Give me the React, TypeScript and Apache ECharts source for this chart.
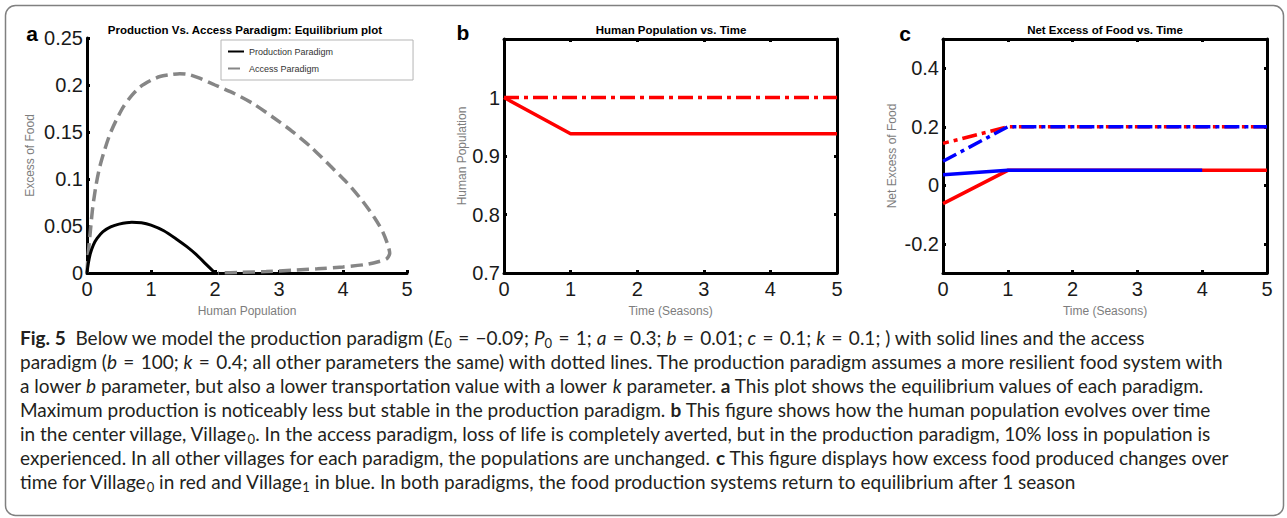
import React, { useEffect, useRef } from 'react';
import * as echarts from 'echarts';

// ---------- data ----------
// Panel a: equilibrium curves (Human Population on x, Excess of Food on y)
const productionX = [0, 0.02, 0.05, 0.1, 0.16, 0.25, 0.37, 0.5, 0.7, 0.85, 1.0, 1.2, 1.4, 1.56, 1.7, 1.85, 2.0];
const productionY = [0, 0.01, 0.02, 0.03, 0.037, 0.044, 0.049, 0.052, 0.054, 0.0535, 0.051, 0.045, 0.036, 0.028, 0.02, 0.01, 0];
const accessX = [0, 0.01, 0.03, 0.06, 0.09, 0.14, 0.2, 0.28, 0.36, 0.46, 0.57, 0.7, 0.83, 1.0, 1.14, 1.3, 1.45, 1.6, 1.77, 2.0, 2.3, 2.6, 2.9, 3.2, 3.5, 3.8, 4.05, 4.3, 4.5, 4.62, 4.7, 4.73, 4.68, 4.55, 4.35, 4.0, 3.6, 3.2, 2.8, 2.4, 2.05];
const accessY = [0, 0.012, 0.028, 0.05, 0.07, 0.093, 0.113, 0.132, 0.148, 0.163, 0.177, 0.189, 0.198, 0.205, 0.209, 0.211, 0.212, 0.211, 0.207, 0.2, 0.191, 0.18, 0.166, 0.151, 0.134, 0.114, 0.097, 0.077, 0.058, 0.044, 0.03, 0.021, 0.015, 0.012, 0.009, 0.0065, 0.0045, 0.003, 0.0015, 0.0006, 0];

// Panel b: human population vs time (seasons)
const seasons = [0, 1, 2, 3, 4, 5];
const popAccess = [1, 1, 1, 1, 1, 1];
const popProduction = [1, 0.938, 0.938, 0.938, 0.938, 0.938];

// Panel c: net excess of food vs time
const foodV0Production = [-0.063, 0.051, 0.051, 0.051, 0.051, 0.051];
const foodV0Access = [0.143, 0.2, 0.2, 0.2, 0.2, 0.2];
const foodV1Production = [0.036, 0.051, 0.051, 0.051, 0.051];
const foodV1Access = [0.082, 0.2, 0.2, 0.2, 0.2, 0.2];

// tick labels
const excessTicks = [0, 0.05, 0.1, 0.15, 0.2, 0.25];
const popTicks = [0.7, 0.8, 0.9, 1];
const foodTicks = [-0.2, 0, 0.2, 0.4];

const legendNames = ['Production Paradigm', 'Access Paradigm'];
const titles = ['Production Vs. Access Paradigm: Equilibrium plot', 'Human Population vs. Time', 'Net Excess of Food vs. Time'];

const EQ = '\u2004=\u2004';
const captionLines = [
  `{b|Fig. 5}  Below we model the production paradigm ({i|E}{sub|0}${EQ}−0.09; {i|P}{sub|0}${EQ}1; {i|a}${EQ}0.3; {i|b}${EQ}0.01; {i|c}${EQ}0.1; {i|k}${EQ}0.1; ) with solid lines and the access`,
  `paradigm ({i|b}${EQ}100; {i|k}${EQ}0.4; all other parameters the same) with dotted lines. The production paradigm assumes a more resilient food system with`,
  'a lower {i|b} parameter, but also a lower transportation value with a lower {i|k} parameter. {b|a} This plot shows the equilibrium values of each paradigm.',
  'Maximum production is noticeably less but stable in the production paradigm. {b|b} This figure shows how the human population evolves over time',
  'in the center village, Village{sub|0}. In the access paradigm, loss of life is completely averted, but in the production paradigm, 10% loss in population is',
  'experienced. In all other villages for each paradigm, the populations are unchanged. {b|c} This figure displays how excess food produced changes over',
  'time for Village{sub|0} in red and Village{sub|1} in blue. In both paradigms, the food production systems return to equilibrium after 1 season',
];

// ---------- styles ----------
const FONT = '"Liberation Sans", Arial, Helvetica, sans-serif';
const CAP_FONT = 'Lato, "Noto Sans", sans-serif';
const CAP_SIZE = 19;
const CAP_LINE = 24;
const CAP_COLOR = '#231f20';

const zip = (xs: number[], ys: number[]) => xs.map((x, i) => [x, ys[i]]);

const axisLine = { show: true, onZero: false, lineStyle: { color: '#000', width: 3 } };
const tick = { show: true, inside: true, length: 3, lineStyle: { color: '#000', width: 3 } };
const labelStyle = { fontSize: 20, color: '#1a1a1a', fontFamily: FONT };
const nameStyle = { fontSize: 12, color: '#7d7d7d', fontFamily: FONT, verticalAlign: 'middle', align: 'center' };
const dashDot = [15, 5, 4, 5];

function bottomX(grid: number, name: string) {
  return {
    gridIndex: grid, type: 'value', min: 0, max: 5, interval: 1,
    axisLine, axisTick: tick, splitLine: { show: false },
    axisLabel: { ...labelStyle, margin: 6 },
    name, nameLocation: 'middle', nameGap: 38, nameTextStyle: nameStyle,
  };
}
function topX(grid: number) {
  return {
    gridIndex: grid, type: 'value', position: 'top', min: 0, max: 5, interval: 1,
    axisLine, axisTick: tick, splitLine: { show: false }, axisLabel: { show: false },
  };
}
function leftY(grid: number, min: number, max: number, ticks: number[], name: string, gap: number) {
  return {
    gridIndex: grid, type: 'value', min, max,
    axisLine, splitLine: { show: false },
    axisTick: { ...tick, customValues: ticks },
    axisLabel: { ...labelStyle, margin: 4, customValues: ticks, formatter: (v: number) => String(Math.round(v * 100) / 100) },
    name, nameLocation: 'middle', nameRotate: 90, nameGap: gap, nameTextStyle: nameStyle,
  };
}
function rightY(grid: number, min: number, max: number, ticks: number[]) {
  return {
    gridIndex: grid, type: 'value', position: 'right', min, max,
    axisLine, splitLine: { show: false },
    axisTick: { ...tick, customValues: ticks }, axisLabel: { show: false },
  };
}

function line(name: string, xi: number, yi: number, data: number[][], color: string, width: number, type: any, extra: any = {}) {
  return {
    type: 'line', name, xAxisIndex: xi, yAxisIndex: yi, data,
    symbol: 'none', showSymbol: false, silent: true,
    lineStyle: { color, width, type, cap: 'butt', ...extra },
    itemStyle: { color },
  };
}

function buildOption() {
  const titleStyle = { fontSize: 11.5, fontWeight: 'bold', color: '#000', fontFamily: FONT };
  const rich = {
    b: { fontFamily: CAP_FONT, fontSize: CAP_SIZE, fontWeight: 'bold', fill: CAP_COLOR, lineHeight: CAP_LINE },
    i: { fontFamily: CAP_FONT, fontSize: CAP_SIZE, fontStyle: 'italic', fill: CAP_COLOR, lineHeight: CAP_LINE },
    sub: { fontFamily: CAP_FONT, fontSize: 13, fill: CAP_COLOR, lineHeight: 15, verticalAlign: 'bottom' },
  };
  const letter = (t: string, x: number, y: number) => ({
    type: 'text', x, y, silent: true,
    style: { text: t, fontFamily: FONT, fontSize: 21, fontWeight: 'bold', fill: '#000', align: 'center', verticalAlign: 'middle', textAlign: 'center', textVerticalAlign: 'middle' },
  });

  return {
    animation: false,
    backgroundColor: '#fff',
    title: [
      { text: titles[0], left: 245, top: 24, textAlign: 'center', textStyle: titleStyle, padding: 0 },
      { text: titles[1], left: 671, top: 24, textAlign: 'center', textStyle: titleStyle, padding: 0 },
      { text: titles[2], left: 1105, top: 24, textAlign: 'center', textStyle: titleStyle, padding: 0 },
    ],
    legend: {
      data: legendNames, left: 221, top: 40, orient: 'vertical',
      itemWidth: 16, itemHeight: 10, itemGap: 8, padding: [7, 80, 7, 6],
      itemStyle: { opacity: 0 },
      borderColor: '#b5b5b5', borderWidth: 1, backgroundColor: '#fff', selectedMode: false,
      textStyle: { fontSize: 9, color: '#333', fontFamily: FONT },
    },
    grid: [
      { left: 87, top: 38, width: 320, height: 235 },
      { left: 504, top: 39, width: 333, height: 234 },
      { left: 943, top: 39, width: 324, height: 234 },
    ],
    xAxis: [bottomX(0, 'Human Population'), bottomX(1, 'Time (Seasons)'), topX(1), bottomX(2, 'Time (Seasons)'), topX(2)],
    yAxis: [
      leftY(0, 0, 0.25, excessTicks, 'Excess of Food', 57),
      leftY(1, 0.7, 1.1, popTicks, 'Human Population', 42),
      rightY(1, 0.7, 1.1, popTicks),
      leftY(2, -0.3, 0.5, foodTicks, 'Net Excess of Food', 51),
      rightY(2, -0.3, 0.5, foodTicks),
    ],
    series: [
      { ...line(legendNames[1], 0, 0, zip(accessX, accessY), '#868686', 3.5, [12, 6]), smooth: 0.25 },
      { ...line(legendNames[0], 0, 0, zip(productionX, productionY), '#000', 3), smooth: 0.25 },
      line('Pop access', 1, 1, zip(seasons, popAccess), '#ff0000', 3.5, dashDot),
      line('Pop production', 1, 1, zip(seasons, popProduction), '#ff0000', 3.5, 'solid'),
      line('Village0 production', 3, 3, zip(seasons, foodV0Production), '#ff0000', 3.5, 'solid'),
      line('Village0 access', 3, 3, zip(seasons, foodV0Access), '#ff0000', 3.5, dashDot, { dashOffset: 9 }),
      line('Village1 production', 3, 3, zip(seasons, foodV1Production), '#0000ff', 3.5, 'solid'),
      line('Village1 access', 3, 3, zip(seasons, foodV1Access), '#0000ff', 3.5, dashDot),
    ],
    graphic: [
      {
        type: 'rect', silent: true, z: -10,
        shape: { x: 5.5, y: 5.5, width: 1278, height: 510, r: 10 },
        style: { fill: 'none', stroke: '#808080', lineWidth: 1.5 },
      },
      letter('a', 32, 33),
      letter('b', 463, 32),
      letter('c', 905, 33),
      ...captionLines.map((t, i) => ({
        type: 'text', x: 20, y: 337 + i * CAP_LINE, silent: true,
        style: {
          text: t, rich, fontFamily: CAP_FONT, fontSize: CAP_SIZE, fill: CAP_COLOR, lineHeight: CAP_LINE,
          align: 'left', verticalAlign: 'middle', textAlign: 'left', textVerticalAlign: 'middle',
        },
      })),
    ],
  };
}

export default function App() {
  const ref = useRef<HTMLDivElement>(null);
  useEffect(() => {
    if (!ref.current) return;
    const chart = echarts.init(ref.current, null, { renderer: 'svg' });
    chart.setOption(buildOption() as any);
    return () => chart.dispose();
  }, []);
  return (
    <div
      ref={ref}
      style={{ position: 'fixed', left: 0, top: 0, width: 1287, height: 518, background: '#fff' }}
    />
  );
}
